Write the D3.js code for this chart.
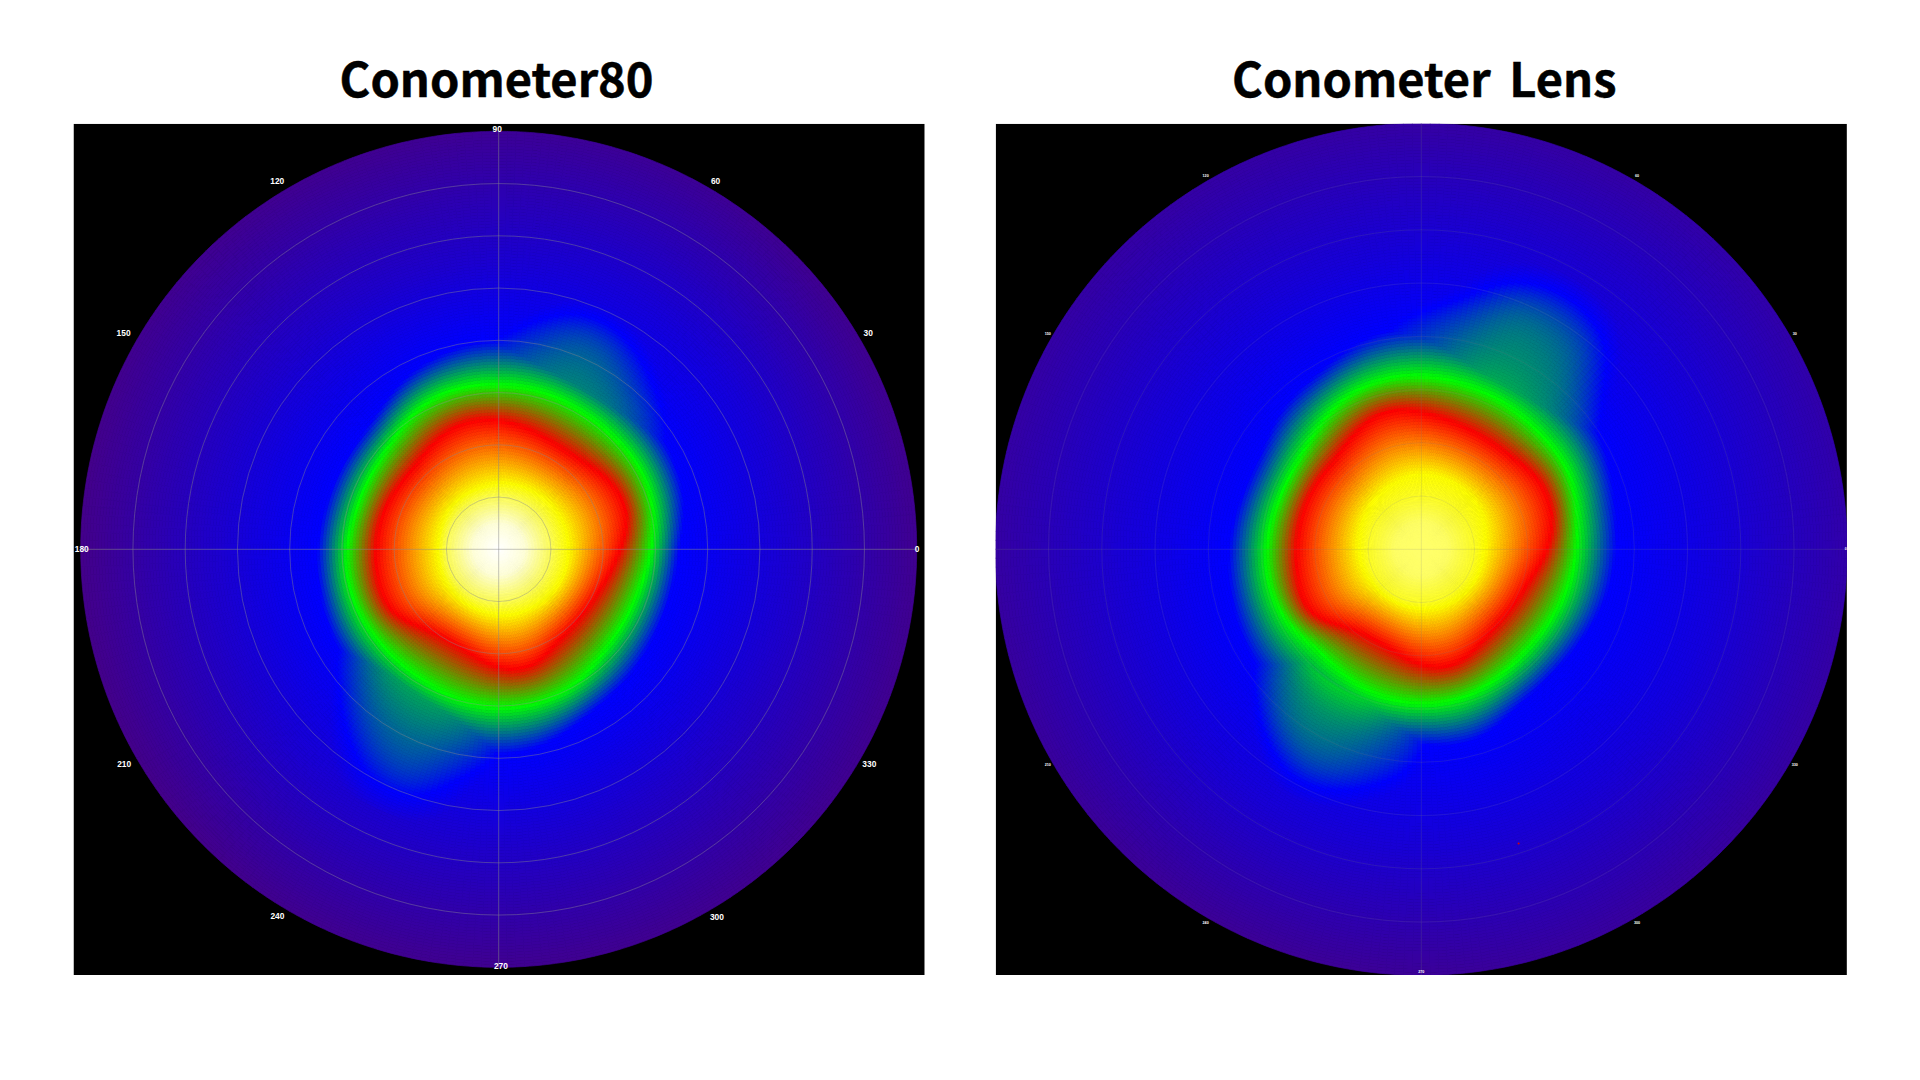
<!DOCTYPE html>
<html><head><meta charset="utf-8">
<style>html,body{margin:0;padding:0;background:#fff;overflow:hidden}svg{display:block}</style>
<script src="https://cdn.jsdelivr.net/npm/d3@7"></script></head>
<body><div id="chart"></div>
<script>
// ---- data (angle in degrees, radius in polar degrees) ----
const titles = ["Conometer80", "Conometer Lens"];
const contourAngles = d3.range(0, 360, 15);
const stopValues = [0, 0.2, 0.4, 0.6, 0.8, 1];
const stopColors = ["rgb(75,0,125)", "#0000ff", "#00ff00", "#ff0000", "#ffff00", "#ffffff"];
const ringValues = [10, 20, 30, 40, 50, 60, 70];
const leftTicks = [0, 30, 60, 90, 120, 150, 180, 210, 240, 270, 300, 330];
const leftTickPlace = [0, 30.4, 59.5, 90.2, 121, 150, 180, 209.8, 238.9, 270.3, 300.7, 329.9];
const leftTickRadii = [80.1, 82, 81.8, 80.5, 82.3, 82.9, 79.8, 82.6, 82, 79.8, 81.8, 82];
const rightTicks = [0, 30, 60, 120, 150, 210, 240, 270, 300, 330];
const rightTickPlace = [0, 30, 60, 120, 150, 210, 240, 270, 300, 330];
const rightTickRadii = [79.7, 81, 81, 81, 81, 81, 81, 79.3, 81, 81];

// left plot: radius at which the pure colour occurs, per angle
const leftYellow = [13.4,13.4,13.3,13.2,13,12.8,12.7,12.4,12.3,12.3,12,11.8,11.6,11.8,12,12,12.2,12.4,12.7,12.8,13,13.2,13.3,13.4];
const leftRed = [23.2,25.8,25.3,23.2,22.6,23.6,24.8,25.4,24,22.4,22.7,23.4,23.5,24,24.2,20.8,19.6,20.5,22.8,23.8,21,20.3,20.3,21.3];
const leftGreen = [29.2,30.6,31.3,30.7,30.7,31.4,31.4,32,31.1,28.8,28.2,28.2,29.1,29.5,29.2,28.7,28.8,29.8,30.4,30.4,29.8,27.9,27.6,27.9];
const leftBlue = [34.3,36.9,37.8,38.1,38.6,39.4,40.4,39.2,37.4,34,34,34,34.8,35.2,36.2,36.2,36.9,38,39.8,38.4,35.6,35,34,34];
const leftAt55 = [.13,.13,.14,.14,.14,.14,.13,.12,.12,.12,.12,.12,.12,.12,.12,.13,.13,.13,.13,.13,.12,.12,.12,.13];
const leftAt80 = [.03,.03,.03,.03,.04,.04,.04,.03,.03,.03,.03,.02,.02,.02,.02,.02,.03,.03,.03,.03,.03,.03,.03,.03];
const leftCentreRadii = [0, 5, 10];
const leftCentreValues = [1.0, 0.97, 0.87];
// right plot
const rightYellow = [11.9,12.5,13.3,13.7,13.9,14.1,14.3,13.8,13.3,12.8,12.4,12,11.9,11.6,11.4,11.1,11,11.1,11.3,11.4,11.5,11.6,11.7,11.8];
const rightRed = [23.8,25.6,26,24.1,23.9,24.5,25.7,27.2,25,23.1,23.4,23.4,23.4,24,24.6,20.1,18.9,19.6,21.9,23,21,19.9,20.2,21];
const rightGreen = [29.1,30,31.6,30.9,31.6,31.9,32.7,32.8,31.6,29.1,28.1,28.4,29.1,29.4,28.7,26.6,27.8,28.7,29.1,29.1,28.1,27.2,27.5,28.4];
const rightBlue = [36.6,37.3,39.5,40.7,40.7,41.3,42,41.3,38.1,37.4,34.5,35.2,36.3,36.8,37.7,38.2,38.8,37.6,36.3,38.2,34.5,33.8,34.5,36];
const rightAt55 = [.15,.15,.15,.15,.15,.15,.15,.14,.14,.14,.14,.14,.14,.14,.14,.14,.14,.14,.14,.14,.14,.14,.15,.15];
const rightAt80 = [.07,.07,.07,.07,.06,.06,.06,.06,.06,.06,.06,.06,.06,.05,.05,.04,.04,.04,.04,.05,.05,.05,.06,.06];
const rightCentreRadii = [0, 5, 10];
const rightCentreValues = [0.885, 0.88, 0.83];

// side lobes: value at lobe angle (columns) and radius (rows)
const leftLobeNEAngles = [20,30,40,50,60,70,80,90,100,110];
const leftLobeNERadii = [30,35,40,45,50,55];
const leftLobeNE = [
 [.1,.24,.30,.32,.33,.33,.33,.32,.26,.1],
 [.1,.22,.26,.29,.30,.30,.29,.26,.24,.1],
 [.1,.17,.215,.25,.285,.285,.25,.21,.17,.1],
 [.1,.12,.15,.19,.245,.255,.20,.14,.1,.1],
 [.1,.1,.1,.12,.16,.175,.12,.1,.1,.1],
 [.1,.1,.1,.1,.1,.1,.1,.1,.1,.1]];
const leftLobeSWAngles = [200,210,220,230,240,250,260,270,280];
const leftLobeSWRadii = [30,35,40,45,50,55];
const leftLobeSW = [
 [.1,.27,.32,.34,.34,.34,.33,.30,.1],
 [.1,.20,.26,.30,.31,.31,.29,.25,.1],
 [.1,.15,.20,.265,.285,.28,.25,.20,.1],
 [.1,.1,.13,.21,.26,.26,.20,.14,.1],
 [.1,.1,.1,.14,.21,.22,.15,.1,.1],
 [.1,.1,.1,.1,.14,.14,.1,.1,.1]];
const rightLobeNEAngles = [20,30,40,50,60,70,80,90,100,110];
const rightLobeNERadii = [30,35,40,45,50,55,60];
const rightLobeNE = [
 [.1,.28,.33,.36,.37,.37,.36,.32,.28,.1],
 [.1,.24,.29,.31,.33,.33,.31,.27,.24,.1],
 [.1,.17,.25,.30,.31,.31,.28,.24,.22,.1],
 [.1,.12,.19,.28,.30,.30,.24,.20,.17,.1],
 [.1,.1,.14,.25,.27,.27,.17,.12,.1,.1],
 [.1,.1,.1,.17,.21,.18,.12,.1,.1,.1],
 [.1,.1,.1,.1,.12,.1,.1,.1,.1,.1]];
const rightLobeSWAngles = [200,210,220,230,240,250,260,270,280];
const rightLobeSWRadii = [30,35,40,45,50,55];
const rightLobeSW = [
 [.1,.24,.33,.37,.37,.37,.34,.30,.1],
 [.1,.20,.27,.31,.32,.31,.27,.23,.1],
 [.1,.14,.22,.29,.30,.28,.25,.20,.1],
 [.1,.1,.12,.22,.27,.25,.20,.15,.1],
 [.1,.1,.1,.12,.20,.18,.13,.1,.1],
 [.1,.1,.1,.1,.12,.1,.1,.1,.1]];
const rightSpeck = [58.2, 288.3];

const plots = [
 {title:titles[0], px:73.5, cx:498.7, cy:549.3, radius:418, titleX:496.6, wordGap:0,
  centreR:leftCentreRadii, centreV:leftCentreValues,
  contours:[leftYellow,leftRed,leftGreen,leftBlue], at55:leftAt55, at80:leftAt80,
  lobes:[[leftLobeNEAngles,leftLobeNERadii,leftLobeNE],[leftLobeSWAngles,leftLobeSWRadii,leftLobeSW]],
  grid:.42, cross:.5, gridW:1, tick:8.4, ticks:leftTicks, tickA:leftTickPlace, tickR:leftTickRadii, nT:300, nR:140},
 {title:titles[1], px:995.7, cx:1421.3, cy:549.3, radius:426, titleX:1424.3, wordGap:8,
  centreR:rightCentreRadii, centreV:rightCentreValues,
  contours:[rightYellow,rightRed,rightGreen,rightBlue], at55:rightAt55, at80:rightAt80,
  lobes:[[rightLobeNEAngles,rightLobeNERadii,rightLobeNE],[rightLobeSWAngles,rightLobeSWRadii,rightLobeSW]],
  grid:.2, cross:.24, gridW:.8, tick:3.7, ticks:rightTicks, tickA:rightTickPlace, tickR:rightTickRadii, nT:300, nR:140, speck:rightSpeck}];

const panelW = 851.2, panelY = 123.8;
const colour = d3.scaleLinear().domain(stopValues).range(stopColors).interpolate(d3.interpolateRgb).clamp(true);
const svg = d3.select("#chart").append("svg").attr("width",1920).attr("height",1080);
const deg = Math.PI/180;

function gridValue(angles, radii, table, a, r){
  const aN = angles[angles.length-1], rN = radii[radii.length-1];
  if (a < angles[0] || a > aN || r < radii[0] || r > rN) return 0;
  const u = (a-angles[0])/(aN-angles[0]), w = (r-radii[0])/(rN-radii[0]);
  return d3.interpolateBasis(table.map(row=>d3.interpolateBasis(row)(u)))(w);
}

plots.forEach((p,idx)=>{
  const g = svg.append("g");
  const clipId = "clip"+idx;
  svg.append("clipPath").attr("id",clipId).append("rect").attr("x",p.px).attr("y",panelY).attr("width",panelW).attr("height",panelW);
  g.attr("clip-path",`url(#${clipId})`);
  g.append("rect").attr("x",p.px).attr("y",panelY).attr("width",panelW).attr("height",panelW).attr("fill","#000");
  const rScale = d3.scaleLinear().domain([0,80]).range([0,p.radius]);
  const curves = p.contours.concat([p.at55,p.at80]).map(t=>d3.interpolateBasisClosed(t));
  const valueAt = (a,r)=>{
    const [ye,re,gr,bl,v55,v80] = curves.map(s=>s(a/360));
    const base = d3.scaleLinear().domain(p.centreR.concat([ye,re,gr,bl,55,80]))
      .range(p.centreV.concat([.8,.6,.4,.2,v55,v80])).clamp(true)(r);
    return Math.max(base, ...p.lobes.map(l=>gridValue(l[0],l[1],l[2],a,r)));
  };
  const cellsIdx = [];
  const dT = 360/p.nT, dR = 80/p.nR;
  for(let i=0;i<p.nT;i++) for(let j=0;j<p.nR;j++) cellsIdx.push([i*dT, j*dR]);
  const arc = d3.arc();
  const cells = g.append("g").attr("transform",`translate(${p.cx},${p.cy})`);
  cells.selectAll("path").data(cellsIdx).join("path")
    .attr("d",d=>arc({innerRadius:rScale(d[1]),outerRadius:rScale(d[1]+dR),
       startAngle:(90-d[0]-dT)*deg,endAngle:(90-d[0])*deg}))
    .each(function(d){const c=colour(valueAt(d[0]+dT/2,d[1]+dR/2));this.setAttribute("fill",c);this.setAttribute("stroke",c);})
    .attr("stroke-width",.7);
  const axes = g.append("g").attr("transform",`translate(${p.cx},${p.cy})`).attr("fill","none").attr("stroke","#8c8c8c");
  axes.selectAll("circle").data(ringValues).join("circle").attr("r",d=>rScale(d))
    .attr("stroke-opacity",p.grid).attr("stroke-width",p.gridW);
  axes.selectAll("line").data([0,90]).join("line")
    .attr("x1",d=>rScale(80)*Math.cos(d*deg)).attr("y1",d=>-rScale(80)*Math.sin(d*deg))
    .attr("x2",d=>-rScale(80)*Math.cos(d*deg)).attr("y2",d=>rScale(80)*Math.sin(d*deg))
    .attr("stroke-opacity",p.cross).attr("stroke-width",p.gridW);
  if(p.speck) axes.append("circle").attr("cx",rScale(p.speck[0])*Math.cos(p.speck[1]*deg)).attr("cy",-rScale(p.speck[0])*Math.sin(p.speck[1]*deg))
    .attr("r",1).attr("fill","#d00").attr("stroke","none");
  g.append("g").attr("transform",`translate(${p.cx},${p.cy})`).selectAll("text").data(p.ticks).join("text")
    .attr("x",(d,i)=>rScale(p.tickR[i])*Math.cos(p.tickA[i]*deg)).attr("y",(d,i)=>-rScale(p.tickR[i])*Math.sin(p.tickA[i]*deg))
    .attr("text-anchor","middle").attr("dominant-baseline","central")
    .attr("font-family","Liberation Sans").attr("font-weight","bold").attr("font-size",p.tick).attr("fill","#fff").text(d=>d);
  svg.append("text").attr("x",p.titleX).attr("y",97).attr("text-anchor","middle")
    .attr("font-family","Noto Sans CJK JP").attr("font-weight","bold").attr("font-size",47)
    .attr("word-spacing",p.wordGap).attr("stroke","#000").attr("stroke-width",.5).attr("fill","#000").text(p.title);
});
</script></body></html>
